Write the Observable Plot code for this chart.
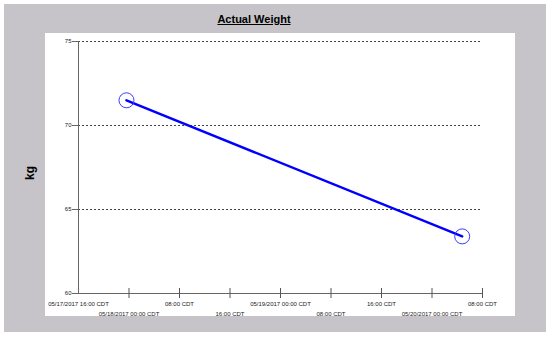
<!DOCTYPE html>
<html>
<head>
<meta charset="utf-8">
<script src="https://cdn.jsdelivr.net/npm/d3@7"></script>
<script src="https://cdn.jsdelivr.net/npm/@observablehq/plot@0.6"></script>
<style>
  html, body { margin: 0; padding: 0; background: #fff; }
  #wrap { position: relative; width: 550px; height: 337px; overflow: hidden; background: #fff; }
  #gray { position: absolute; left: 4px; top: 4px; width: 542px; height: 328px; background: #c6c4c8; }
  #panel { position: absolute; left: 45px; top: 33px; width: 470px; height: 283px; background: #fff; }
  #title { position: absolute; left: 0; width: 508px; top: 13px; text-align: center;
           font-family: "Liberation Sans", Arial, sans-serif; font-weight: bold; font-size: 11px;
           text-decoration: underline; color: #000; }
  #ylabel { position: absolute; left: 22px; top: 166px; width: 16px; text-align: center;
            font-family: "Liberation Sans", Arial, sans-serif; font-weight: bold; font-size: 12px;
            transform: rotate(-90deg); color: #000; }
  #chart { position: absolute; left: 0; top: 0; }
  #chart svg { background: transparent; }
</style>
</head>
<body>
<div id="wrap">
  <div id="gray"></div>
  <div id="panel"></div>
  <div id="title">Actual Weight</div>
  <div id="ylabel">kg</div>
  <div id="chart"></div>
</div>
<script>
// Data
const times = ["2017-05-17T23:36:00-05:00", "2017-05-20T04:47:00-05:00"];
const weights = [71.5, 63.4];

// X ticks (every 8 hours, CDT)
const tickTimes = [
  "2017-05-17T16:00:00-05:00",
  "2017-05-18T00:00:00-05:00",
  "2017-05-18T08:00:00-05:00",
  "2017-05-18T16:00:00-05:00",
  "2017-05-19T00:00:00-05:00",
  "2017-05-19T08:00:00-05:00",
  "2017-05-19T16:00:00-05:00",
  "2017-05-20T00:00:00-05:00",
  "2017-05-20T08:00:00-05:00"
];
const tickLabels = [
  "05/17/2017 16:00 CDT",
  "05/18/2017 00:00 CDT",
  "08:00 CDT",
  "16:00 CDT",
  "05/19/2017 00:00 CDT",
  "08:00 CDT",
  "16:00 CDT",
  "05/20/2017 00:00 CDT",
  "08:00 CDT"
];
const yTicks = [60, 65, 70, 75];
const gridValues = [65, 70, 75];
const yDomain = [60, 75];

const data = times.map((t, i) => ({time: new Date(t), weight: weights[i]}));
const tickDates = tickTimes.map(t => new Date(t));
const labelOf = d => tickLabels[tickDates.findIndex(t => +t === +d)];
const evenTicks = tickDates.filter((d, i) => i % 2 === 0);
const oddTicks = tickDates.filter((d, i) => i % 2 === 1);

const chart = Plot.plot({
  width: 550,
  height: 337,
  marginLeft: 78,
  marginRight: 68,
  marginTop: 41,
  marginBottom: 44,
  style: {background: "transparent", fontFamily: "'Liberation Sans', Arial, sans-serif"},
  x: {type: "time", domain: [tickDates[0], tickDates[tickDates.length - 1]]},
  y: {domain: yDomain},
  marks: [
    Plot.ruleY(gridValues, {stroke: "#444", strokeDasharray: "2,2", strokeWidth: 1}),
    Plot.ruleX([tickDates[0]], {stroke: "#666", strokeWidth: 1}),
    Plot.ruleY([yDomain[0]], {stroke: "#666", strokeWidth: 1}),
    Plot.axisY({ticks: yTicks, tickSize: 6, tickPadding: 1, fontSize: 6, label: null, stroke: "#666", fill: "#222"}),
    Plot.axisX({ticks: evenTicks, tickSize: 0, tickPadding: 8, fontSize: 6, label: null, tickFormat: labelOf, fill: "#222"}),
    Plot.axisX({ticks: oddTicks, tickSize: 0, tickPadding: 18, fontSize: 6, label: null, tickFormat: labelOf, fill: "#222"}),
    Plot.axisX({ticks: tickDates.slice(1), tickSize: 10, dy: -5, label: null, tickFormat: () => "", stroke: "#555"}),
    Plot.line(data, {x: "time", y: "weight", stroke: "#0000ff", strokeWidth: 2.5}),
    Plot.dot(data, {x: "time", y: "weight", r: 7.5, stroke: "#3a3aff", strokeWidth: 1, fill: "none"})
  ]
});
document.getElementById("chart").appendChild(chart);
</script>
</body>
</html>
